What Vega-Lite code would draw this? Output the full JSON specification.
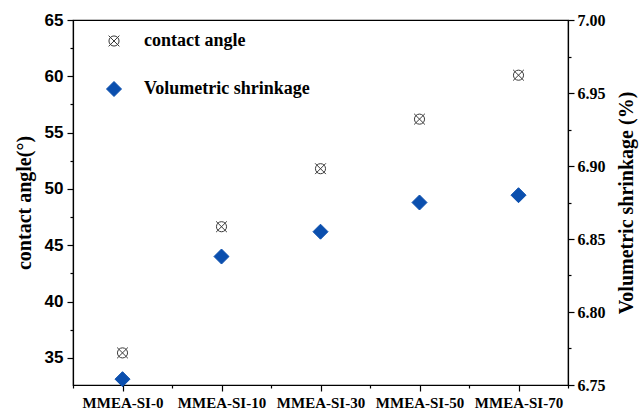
{
  "$schema": "https://vega.github.io/schema/vega-lite/v6.json",
  "width": 495,
  "height": 365,
  "autosize": {"type": "none"},
  "padding": {"left": 73, "top": 20, "right": 73, "bottom": 27},
  "background": "white",
  "config": {
    "view": {"stroke": "#000", "strokeWidth": 1.2},
    "axis": {
      "domainColor": "#000",
      "domainWidth": 1.2,
      "tickColor": "#000",
      "tickWidth": 1.2,
      "grid": false,
      "labelColor": "#000",
      "titleColor": "#000"
    }
  },
  "data": {
    "values": [
      {"sample": "MMEA-SI-0", "series": "contact angle", "value": 35.45},
      {"sample": "MMEA-SI-10", "series": "contact angle", "value": 46.65},
      {"sample": "MMEA-SI-30", "series": "contact angle", "value": 51.8},
      {"sample": "MMEA-SI-50", "series": "contact angle", "value": 56.2},
      {"sample": "MMEA-SI-70", "series": "contact angle", "value": 60.1},
      {"sample": "MMEA-SI-0", "series": "Volumetric shrinkage", "value": 6.754},
      {"sample": "MMEA-SI-10", "series": "Volumetric shrinkage", "value": 6.838},
      {"sample": "MMEA-SI-30", "series": "Volumetric shrinkage", "value": 6.855},
      {"sample": "MMEA-SI-50", "series": "Volumetric shrinkage", "value": 6.875},
      {"sample": "MMEA-SI-70", "series": "Volumetric shrinkage", "value": 6.880}
    ]
  },
  "transform": [
    {"window": [{"op": "row_number", "as": "n"}], "groupby": ["series"]}
  ],
  "encoding": {
    "x": {
      "field": "n",
      "type": "quantitative",
      "scale": {"domain": [0.5, 5.5], "nice": false, "zero": false},
      "axis": {
        "title": null,
        "values": [0.5, 1, 1.5, 2, 2.5, 3, 3.5, 4, 4.5, 5, 5.5],
        "labelExpr": "datum.value % 1 === 0 ? ['MMEA-SI-0','MMEA-SI-10','MMEA-SI-30','MMEA-SI-50','MMEA-SI-70'][datum.value - 1] : ''",
        "tickSize": {"condition": {"test": "datum.value % 1 === 0", "value": 6}, "value": 3},
        "labelFont": "Liberation Serif",
        "labelFontWeight": "bold",
        "labelFontSize": 15,
        "labelPadding": 4,
        "labelOverlap": false,
        "labelBound": false,
        "labelFlush": false
      }
    },
    "shape": {
      "field": "series",
      "type": "nominal",
      "scale": {
        "domain": ["contact angle", "Volumetric shrinkage"],
        "range": ["M0.8,0A0.8,0.8,0,1,1,-0.8,0A0.8,0.8,0,1,1,0.8,0ZM-0.85,-0.85L0.85,0.85M0.85,-0.85L-0.85,0.85", "diamond"]
      },
      "legend": {
        "title": null,
        "orient": "none",
        "legendX": 32,
        "legendY": 12,
        "padding": 0,
        "rowPadding": 29,
        "labelOffset": 21,
        "labelLimit": 400,
        "labelFont": "Liberation Serif",
        "labelFontWeight": "bold",
        "labelFontSize": 18,
        "labelColor": "#000",
        "symbolStrokeWidth": 1
      }
    },
    "fill": {
      "field": "series",
      "type": "nominal",
      "scale": {
        "domain": ["contact angle", "Volumetric shrinkage"],
        "range": ["transparent", "#0b4fae"]
      }
    },
    "stroke": {
      "field": "series",
      "type": "nominal",
      "scale": {
        "domain": ["contact angle", "Volumetric shrinkage"],
        "range": ["#3a3a3a", "#0b4fae"]
      }
    },
    "size": {
      "field": "series",
      "type": "nominal",
      "scale": {
        "domain": ["contact angle", "Volumetric shrinkage"],
        "range": [160, 225]
      }
    }
  },
  "layer": [
    {
      "transform": [{"filter": "datum.series === 'contact angle'"}],
      "mark": {"type": "point", "strokeWidth": 1, "opacity": 1},
      "encoding": {
        "y": {
          "field": "value",
          "type": "quantitative",
          "scale": {"domain": [32.6, 65], "nice": false, "zero": false},
          "axis": {
            "orient": "left",
            "title": "contact angle(°)",
            "values": [35, 37.5, 40, 42.5, 45, 47.5, 50, 52.5, 55, 57.5, 60, 62.5, 65],
            "labelExpr": "datum.value % 5 === 0 ? datum.label : ''",
            "tickSize": {"condition": {"test": "datum.value % 5 === 0", "value": 6}, "value": 3},
            "labelFont": "Liberation Sans",
            "labelFontWeight": "bold",
            "labelFontSize": 17,
            "labelPadding": 4,
            "titleFont": "Liberation Serif",
            "titleFontWeight": "bold",
            "titleFontSize": 20,
            "titlePadding": 10
          }
        }
      }
    },
    {
      "transform": [{"filter": "datum.series === 'Volumetric shrinkage'"}],
      "mark": {"type": "point", "strokeWidth": 1, "opacity": 1},
      "encoding": {
        "y": {
          "field": "value",
          "type": "quantitative",
          "scale": {"domain": [6.75, 7.0], "nice": false, "zero": false},
          "axis": {
            "orient": "right",
            "title": "Volumetric shrinkage (%)",
            "titleAngle": 270,
            "titleBaseline": "top",
            "values": [6.75, 6.775, 6.8, 6.825, 6.85, 6.875, 6.9, 6.925, 6.95, 6.975, 7.0],
            "format": ".2f",
            "labelExpr": "round(datum.value * 1000) % 50 === 0 ? datum.label : ''",
            "tickSize": {"condition": {"test": "round(datum.value * 1000) % 50 === 0", "value": 6}, "value": 3},
            "labelFont": "Liberation Serif",
            "labelFontWeight": "bold",
            "labelFontSize": 16,
            "labelPadding": 3,
            "titleFont": "Liberation Serif",
            "titleFontWeight": "bold",
            "titleFontSize": 20,
            "titlePadding": 11
          }
        }
      }
    }
  ],
  "resolve": {"scale": {"y": "independent"}}
}
